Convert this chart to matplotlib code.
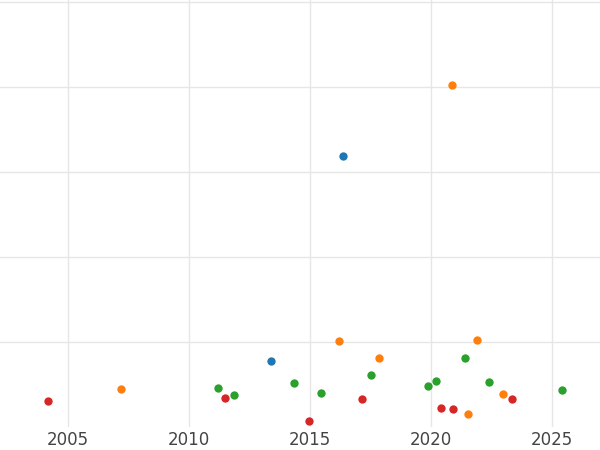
import matplotlib
matplotlib.use("Agg")
import matplotlib.pyplot as plt

# years (decimal) and values per series
blue_x = [2013.39, 2016.36]
blue_y = [0.78, 3.19]
orange_x = [2007.19, 2016.2, 2017.85, 2020.87, 2021.53, 2021.9, 2022.98]
orange_y = [0.45, 1.01, 0.81, 4.02, 0.15, 1.02, 0.39]
green_x = [2011.2, 2011.86, 2014.34, 2015.45, 2017.52, 2019.88, 2020.21, 2021.41, 2022.4, 2025.42]
green_y = [0.46, 0.38, 0.52, 0.40, 0.61, 0.48, 0.54, 0.81, 0.53, 0.44]
red_x = [2004.17, 2011.49, 2014.96, 2017.15, 2020.41, 2020.91, 2023.35]
red_y = [0.31, 0.34, 0.07, 0.33, 0.22, 0.21, 0.33]

xticks = [2005, 2010, 2015, 2020, 2025]

fig = plt.figure(figsize=(6, 4.5), dpi=100)
ax = fig.add_axes([0, 1 - 427 / 450, 1, 427 / 450])
for xs, ys, c in [(blue_x, blue_y, "#1f77b4"), (orange_x, orange_y, "#ff7f0e"),
                  (green_x, green_y, "#2ca02c"), (red_x, red_y, "#d62728")]:
    ax.scatter(xs, ys, s=36, color=c, zorder=3, linewidths=0)

ax.set_xlim(2002.19, 2026.98)
ax.set_ylim(0, 5.02)
ax.set_xticks(xticks)
ax.set_yticks([1, 2, 3, 4, 5])
ax.set_yticklabels([])
ax.tick_params(length=0, labelsize=12, labelcolor="#444444", pad=3)
ax.tick_params(axis="y", left=False)
ax.grid(True, color="#e6e6e6", linewidth=1)
ax.set_axisbelow(True)
for s in ax.spines.values():
    s.set_visible(False)

fig.savefig("out.png", dpi=100)
